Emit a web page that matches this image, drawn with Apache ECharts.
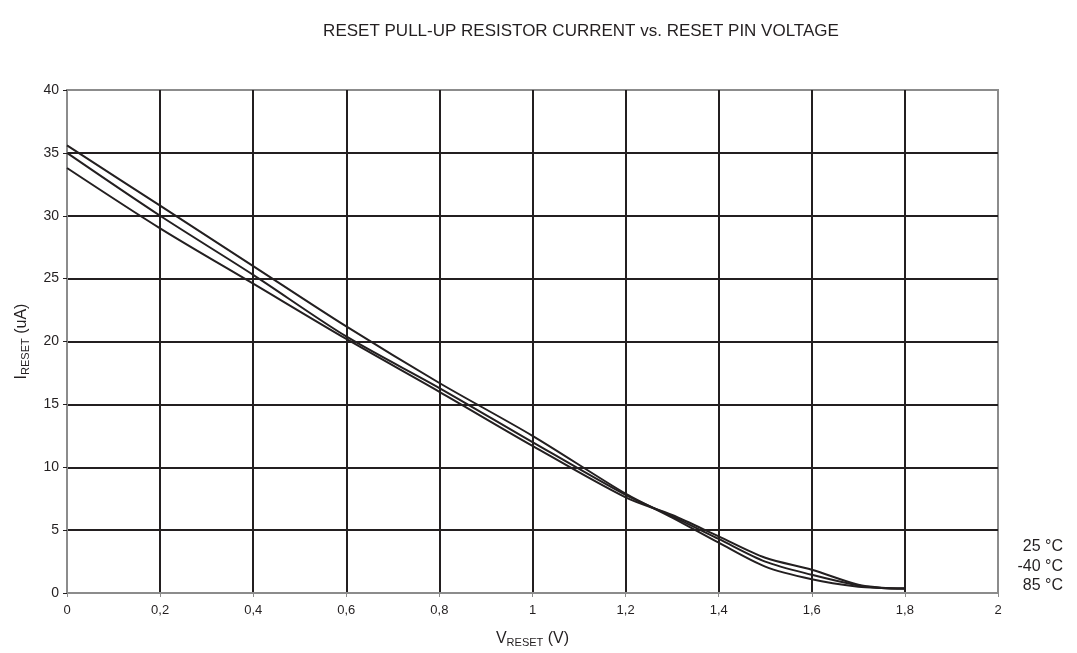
<!DOCTYPE html>
<html>
<head>
<meta charset="UTF-8">
<title>RESET pull-up current</title>
<script src="https://cdn.jsdelivr.net/npm/echarts@6/dist/echarts.min.js"></script>
<style>
body { margin: 0; padding: 0; background: #fff; }
#main { width: 1077px; height: 653px; }
</style>
</head>
<body>
<div id="main"></div>
<script>
// V_RESET (V)
var volts = [0, 0.2, 0.4, 0.6, 0.8, 1.0, 1.2, 1.3, 1.4, 1.5, 1.6, 1.7, 1.75, 1.8];
// I_RESET (uA) per temperature
var cur25 = [35.6, 30.8, 26.0, 21.2, 16.7, 12.5, 7.9, 6.0, 4.0, 2.1, 1.1, 0.5, 0.4, 0.35];
var curM40 = [35.0, 30.0, 25.3, 20.4, 16.3, 12.0, 7.8, 6.1, 4.3, 2.5, 1.45, 0.6, 0.4, 0.35];
var cur85 = [33.8, 29.0, 24.6, 20.2, 16.0, 11.7, 7.6, 6.2, 4.5, 2.8, 1.85, 0.65, 0.42, 0.35];
var tempNames = ['25 °C', '-40 °C', '85 °C'];

function pairs(ys) {
  return volts.map(function (v, i) { return [v, ys[i]]; });
}

var ink = '#231f20';
var frame = '#8c8c8c';
var chart = echarts.init(document.getElementById('main'));

var series = [cur25, curM40, cur85].map(function (ys, k) {
  return {
    name: tempNames[k],
    type: 'line',
    data: pairs(ys),
    smooth: 0.3,
    symbol: 'none',
    lineStyle: { color: ink, width: 2 }
  };
});

var nameRich = {
  m: { fontFamily: 'Liberation Sans', fontSize: 16, color: ink },
  s: { fontFamily: 'Liberation Sans', fontSize: 11, color: ink, padding: [7, 0, 0, 0] }
};

chart.setOption({
  animation: false,
  title: {
    text: 'RESET PULL-UP RESISTOR CURRENT vs. RESET PIN VOLTAGE',
    left: 576, top: 18, textAlign: 'center',
    textStyle: { fontFamily: 'Liberation Sans', fontSize: 17, fontWeight: 'normal', color: ink }
  },
  grid: { left: 67, right: 79, top: 90, bottom: 60, show: true, borderColor: frame, borderWidth: 2 },
  xAxis: {
    type: 'value', min: 0, max: 2, interval: 0.2,
    name: '{m|V}{s|RESET}{m| (V)}', nameLocation: 'middle', nameGap: 37,
    nameTextStyle: { rich: nameRich },
    axisLine: { lineStyle: { color: frame, width: 2 } },
    axisTick: { show: true, length: 4, lineStyle: { color: frame } },
    axisLabel: {
      fontFamily: 'Liberation Sans', fontSize: 13, color: ink, margin: 11,
      formatter: function (v) { return String(Math.round(v * 10) / 10).replace('.', ','); }
    },
    splitLine: { show: true, showMinLine: false, showMaxLine: false, lineStyle: { color: ink, width: 2 } }
  },
  yAxis: {
    type: 'value', min: 0, max: 40, interval: 5,
    name: '{m|I}{s|RESET}{m| (uA)}', nameLocation: 'middle', nameGap: 36,
    nameTextStyle: { rich: nameRich },
    axisLine: { show: true, lineStyle: { color: frame, width: 2 } },
    axisTick: { show: true, length: 4, lineStyle: { color: ink } },
    axisLabel: { fontFamily: 'Liberation Sans', fontSize: 14, color: ink, margin: 8 },
    splitLine: { show: true, showMinLine: false, showMaxLine: false, lineStyle: { color: ink, width: 2 } }
  },
  graphic: tempNames.map(function (t, k) {
    return {
      type: 'text', right: 14, top: 539 + k * 19.5,
      style: { text: t, fill: ink, font: '16px "Liberation Sans"', textAlign: 'right' }
    };
  }),
  series: series
});
</script>
</body>
</html>
